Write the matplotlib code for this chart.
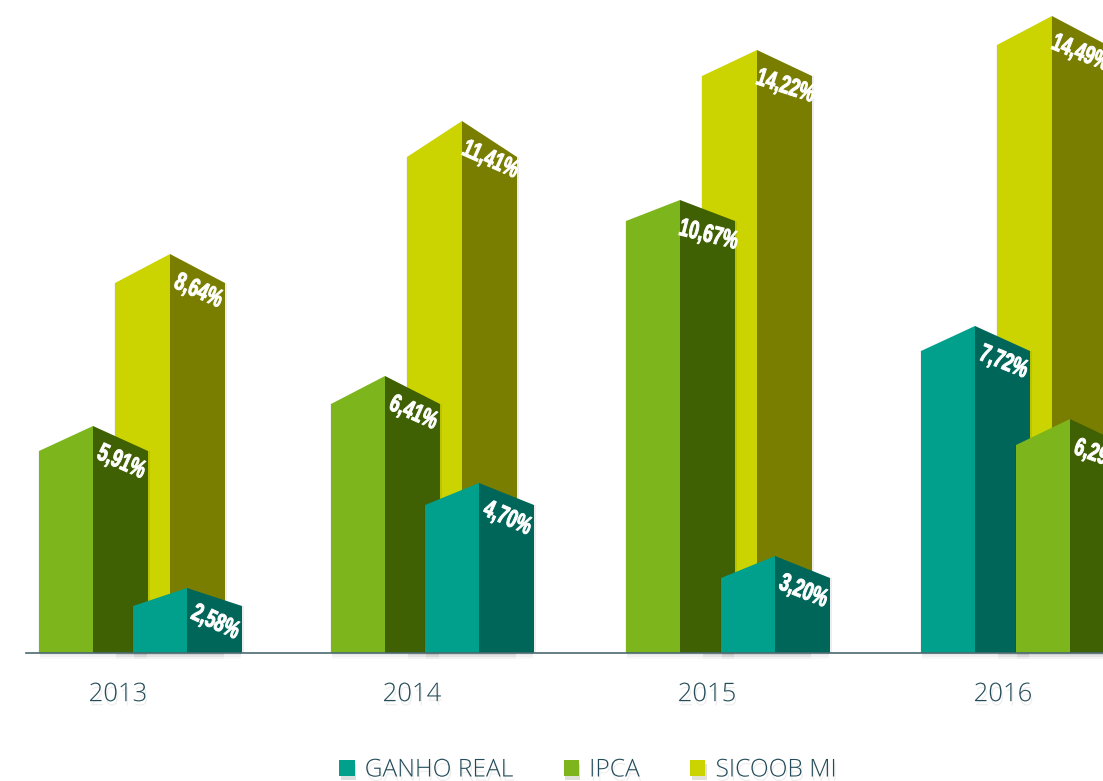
import matplotlib
matplotlib.use("Agg")
import matplotlib.pyplot as plt
from matplotlib.patches import Polygon, Patch, Rectangle
from matplotlib.patheffects import AbstractPathEffect, Normal, withSimplePatchShadow
from matplotlib.transforms import Affine2D

years = ["2013", "2014", "2015", "2016"]
ganho_real = ["2,58%", "4,70%", "3,20%", "7,72%"]
ipca = ["5,91%", "6,41%", "10,67%", "6,29%"]
sicoob_mi = ["8,64%", "11,41%", "14,22%", "14,49%"]

# Drawn column heights (the original is not to scale)
ganho_height = [65, 170, 97, 327]
ipca_height = [227, 277, 453, 234]
sicoob_height = [399, 532, 603, 637]

ganho_left = [133, 425, 721, 921]
ipca_left = [39, 331, 626, 1016]
sicoob_left = [115, 407, 702, 997]
ganho_rise = [18, 22, 22, 25]
ipca_rise = [25, 28, 21, 26]
sicoob_rise = [29, 36, 26, 29]
ganho_angle = [25, 24, 22, 22]
ipca_angle = [24, 24, 14, 20]
sicoob_angle = [24, 24, 18, 22]

series = [
    ("GANHO REAL", ganho_real, ganho_height, ganho_left, ganho_rise, ganho_angle, "#00A08C", "#00665A", 54),
    ("IPCA", ipca, ipca_height, ipca_left, ipca_rise, ipca_angle, "#7DB51C", "#406004", 54),
    ("SICOOB MI", sicoob_mi, sicoob_height, sicoob_left, sicoob_rise, sicoob_angle, "#CBD300", "#7A7E00", 55),
]
SIDE_W = 55
TEXT = "#234C58"


class Condensed(AbstractPathEffect):
    """Squeeze a real text horizontally and stretch it vertically, thickening it a little."""

    def __init__(self, sx, sy, weight):
        super().__init__()
        self.sx, self.sy, self.weight = sx, sy, weight

    def draw_path(self, renderer, gc, tpath, affine, rgbFace=None):
        box = tpath.get_extents()
        cx, cy = (box.x0 + box.x1) / 2, (box.y0 + box.y1) / 2
        pre = Affine2D().translate(-cx, -cy).scale(self.sx, self.sy).translate(cx, cy)
        gc0 = renderer.new_gc()
        gc0.copy_properties(gc)
        gc0.set_linewidth(self.weight)
        gc0.set_foreground(rgbFace)
        renderer.draw_path(gc0, tpath, pre + affine, rgbFace)
        gc0.restore()


fig = plt.figure(figsize=(11.03, 7.81), dpi=100, facecolor="white")
ax = fig.add_axes([0, 128 / 781, 1, 653 / 781])
ax.set_xlim(0, 1103)
ax.set_ylim(0, 653)
ax.patch.set_visible(False)


def draw_bar(x, h, rise, angle, front, side, label, front_w, z):
    total = front_w + SIDE_W
    for off, a in ((6, 0.025), (4, 0.03), (2, 0.04)):
        ax.add_patch(Rectangle((x + 1, -off), total - 2, off, fc="black", ec="none",
                               alpha=a, clip_on=False, zorder=1))
    ax.add_patch(Polygon([(x + total, 0), (x + total + 2, 0), (x + total + 2, h - rise), (x + total, h - rise)],
                         fc="black", ec="none", alpha=0.07, zorder=z))
    ax.add_patch(Polygon([(x - 1, 0), (x, 0), (x, h - rise), (x - 1, h - rise)],
                         fc="black", ec="none", alpha=0.05, zorder=z))
    ax.add_patch(Polygon([(x, 0), (x + front_w, 0), (x + front_w, h), (x, h - rise)],
                         fc=front, ec="none", zorder=z))
    ax.add_patch(Polygon([(x + front_w, 0), (x + total, 0), (x + total, h - rise), (x + front_w, h)],
                         fc=side, ec="none", zorder=z))
    ann = ax.annotate(label, xy=(x + front_w, h), xytext=(28.5, -(30 + rise * 0.25)), textcoords="offset pixels",
                      ha="center", va="center", rotation=-angle, rotation_mode="anchor",
                      color="white", fontsize=15, fontweight="bold", family="Liberation Sans",
                      annotation_clip=False, zorder=z + 0.5)
    ann.set_path_effects([Condensed(0.85, 1.22, 0.7)])


z = 2
for i in range(len(years)):
    for name, labels, heights, lefts, rises, angles, front, side, fw in sorted(series, key=lambda s: -s[2][i]):
        draw_bar(lefts[i], heights[i], rises[i], angles[i], front, side, labels[i], fw, z)
        z += 1

for s in ("top", "left", "right"):
    ax.spines[s].set_visible(False)
ax.spines["bottom"].set_bounds(26, 1103)
ax.spines["bottom"].set_color("#4A6A70")
ax.spines["bottom"].set_linewidth(1.2)
ax.spines["bottom"].set_zorder(50)
ax.set_yticks([])
ax.set_xticks([118, 412, 707, 1003], years)
ax.tick_params(axis="x", length=0, pad=21, labelsize=18.5, labelcolor=TEXT)
shadow = withSimplePatchShadow(offset=(1, -3), shadow_rgbFace="#000000", alpha=0.07)
for t in ax.get_xticklabels():
    t.set_family("Open Sans")
    t.set_fontweight("light")
    t.set_path_effects([shadow])

handles = [Patch(fc=s[6], ec="none", label=s[0]) for s in series]
leg = fig.legend(handles=handles, ncol=3, frameon=False, loc="center",
                 bbox_to_anchor=(588 / 1103, 1 - 770 / 781),
                 prop={"family": "Open Sans", "size": 17.7, "weight": "light"},
                 labelcolor=TEXT, handlelength=0.62, handleheight=0.62,
                 handletextpad=0.41, columnspacing=2.05, borderpad=0)
for t in leg.get_texts():
    t.set_path_effects([shadow])
for p in leg.get_patches():
    p.set_path_effects([withSimplePatchShadow(offset=(1, -3), alpha=0.15), Normal()])

fig.savefig("out.png", dpi=100, facecolor="white")
